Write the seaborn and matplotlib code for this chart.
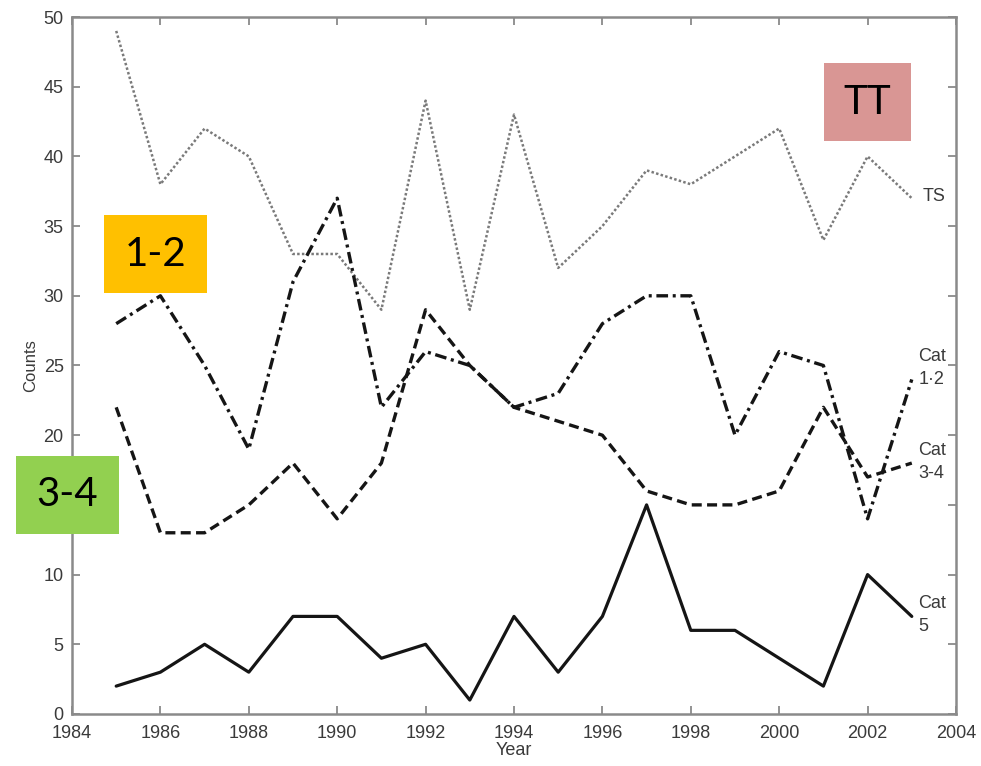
import matplotlib
matplotlib.use("Agg")
import matplotlib.pyplot as plt
from matplotlib.patches import Rectangle
import seaborn as sns
import pandas as pd

# Annual storm counts by category
years = list(range(1985, 2004))
ts = [49, 38, 42, 40, 33, 33, 29, 44, 29, 43, 32, 35, 39, 38, 40, 42, 34, 40, 37]
cat12 = [28, 30, 25, 19, 31, 37, 22, 26, 25, 22, 23, 28, 30, 30, 20, 26, 25, 14, 24]
cat34 = [22, 13, 13, 15, 18, 14, 18, 29, 25, 22, 21, 20, 16, 15, 15, 16, 22, 17, 18]
cat5 = [2, 3, 5, 3, 7, 7, 4, 5, 1, 7, 3, 7, 15, 6, 6, 4, 2, 10, 7]

x_ticks = list(range(1984, 2005, 2))
y_ticks = list(range(0, 51, 5))

sns.set_theme(style="ticks")
plt.rcParams["font.family"] = ["Liberation Sans", "DejaVu Sans"]

ink = "#3a3a3a"
frame = "#8a8a8a"

fig = plt.figure(figsize=(9.81, 7.66), dpi=100)
ax = fig.add_axes([0.0734, 0.0679, 0.9011, 0.9099])

df = pd.DataFrame({"Year": years, "TS": ts, "Cat12": cat12,
                   "Cat34": cat34, "Cat5": cat5})

sns.lineplot(data=df, x="Year", y="TS", ax=ax, color="#7a7a7a",
             linewidth=1.8, linestyle=(0, (1, 0.9)))
sns.lineplot(data=df, x="Year", y="Cat12", ax=ax, color="#151515",
             linewidth=2.4, linestyle=(0, (3.5, 1.4, 0.9, 1.4)))
sns.lineplot(data=df, x="Year", y="Cat34", ax=ax, color="#151515",
             linewidth=2.4, linestyle=(0, (3.0, 1.6)))
sns.lineplot(data=df, x="Year", y="Cat5", ax=ax, color="#151515",
             linewidth=2.3, linestyle="-")

ax.set_xlim(1984, 2004)
ax.set_ylim(0, 50)
ax.set_xticks(x_ticks)
ax.set_yticks(y_ticks)
ax.set_xticklabels([str(t) for t in x_ticks])
ax.set_yticklabels([str(t) for t in y_ticks])

ax.tick_params(axis="both", direction="in", length=6, width=1.3,
               color=frame, labelsize=13, labelcolor=ink,
               top=True, right=True)
ax.tick_params(axis="x", pad=8)
ax.tick_params(axis="y", pad=6)
for sp in ax.spines.values():
    sp.set_visible(True)
    sp.set_color(frame)
    sp.set_linewidth(1.8)

ax.set_xlabel("Year", fontsize=13, color=ink, labelpad=0)
ax.set_ylabel("Counts", fontsize=12, color=ink, labelpad=4)

# series labels at the right end of the lines
lab = dict(fontsize=13, color=ink, ha="left", va="center", linespacing=1.45)
ax.text(2003.25, 37.1, "TS", **lab)
ax.text(2003.15, 24.8, "Cat\n1·2", **lab)
ax.text(2003.15, 18.1, "Cat\n3-4", **lab)
ax.text(2003.15, 7.1, "Cat\n5", **lab)

# coloured category tags
def tag(x0, y0, w, h, color, text):
    W, H = 981.0, 766.0
    fig.add_artist(Rectangle((x0 / W, 1 - (y0 + h) / H), w / W, h / H,
                             transform=fig.transFigure, facecolor=color,
                             edgecolor="none", zorder=10))
    fig.text((x0 + w / 2) / W, 1 - (y0 + h / 2) / H, text,
             fontsize=29, color="black", ha="center", va="center",
             family=["Lato", "DejaVu Sans"], zorder=11)

tag(824, 63, 87, 78, "#D99694", "TT")
tag(104, 215, 103, 78, "#FFC000", "1-2")
tag(16, 456, 103, 78, "#92D050", "3-4")

fig.savefig("out.png", dpi=100)
